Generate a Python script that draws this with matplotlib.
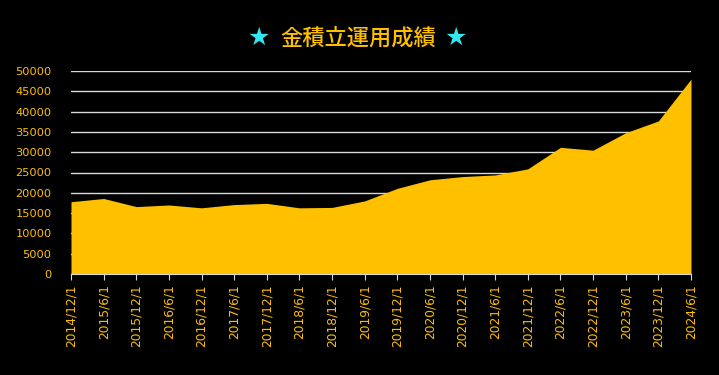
import matplotlib.pyplot as plt

plt.rcParams['font.family'] = ['DejaVu Sans', 'Noto Sans CJK JP']

dates = ["2014/12/1", "2015/6/1", "2015/12/1", "2016/6/1", "2016/12/1",
         "2017/6/1", "2017/12/1", "2018/6/1", "2018/12/1", "2019/6/1",
         "2019/12/1", "2020/6/1", "2020/12/1", "2021/6/1", "2021/12/1",
         "2022/6/1", "2022/12/1", "2023/6/1", "2023/12/1", "2024/6/1"]
values = [17800, 18600, 16600, 17000, 16300, 17100, 17400, 16300, 16400, 18000,
          21100, 23200, 24000, 24400, 25900, 31200, 30500, 34800, 37700, 48000]
yticks = list(range(0, 50001, 5000))

gold = '#FFC000'
star_color = '#33e6f0'

fig = plt.figure(figsize=(7.19, 3.75), dpi=100, facecolor='black')
ax = fig.add_axes([71/719, 1 - 274/375, 620/719, 203/375])
ax.set_facecolor('black')

x = list(range(len(dates)))
ax.fill_between(x, values, 0, color=gold, linewidth=0, zorder=2)

ax.set_xlim(0, len(dates) - 1)
ax.set_ylim(0, 50000)
ax.set_yticks(yticks)
ax.set_xticks(x)
ax.set_xticklabels(dates, rotation=90)
ax.yaxis.grid(True, color='#d9d9d9', linewidth=1, zorder=0)
ax.set_axisbelow(True)

for s in ['top', 'right', 'left']:
    ax.spines[s].set_visible(False)
ax.spines['bottom'].set_color('#d9d9d9')
ax.tick_params(axis='y', length=0, colors=gold, labelsize=8.2, pad=14)
ax.tick_params(axis='x', length=4, color='#d9d9d9', labelcolor=gold, labelsize=8.8)

# title: cyan stars around gold text
fig.text(0.359, 0.899, '★', color=star_color, fontsize=18, ha='center', va='center')
fig.text(0.498, 0.899, '金積立運用成績', color=gold, fontsize=16, ha='center', va='center',
         family=['Noto Sans CJK JP'], fontweight='medium')
fig.text(0.634, 0.899, '★', color=star_color, fontsize=18, ha='center', va='center')

fig.savefig('out.png', dpi=100, facecolor='black')
